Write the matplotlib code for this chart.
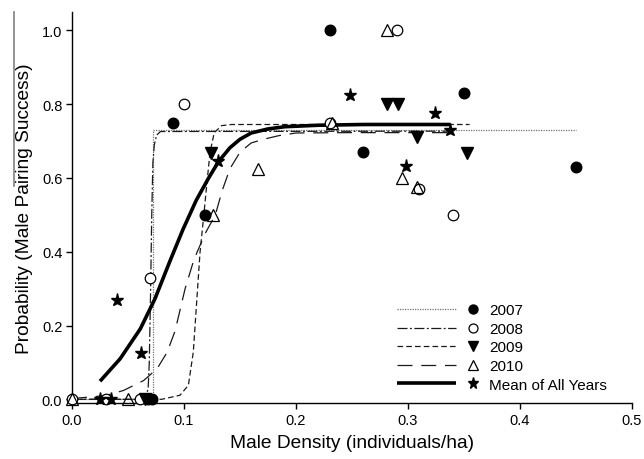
import numpy as np
import matplotlib
matplotlib.use("Agg")
import matplotlib.pyplot as plt
from matplotlib.lines import Line2D
from matplotlib.legend_handler import HandlerBase

plt.rcParams['font.family'] = ['Liberation Sans', 'DejaVu Sans']

x_2007 = [0.068, 0.071, 0.090, 0.119, 0.230, 0.260, 0.350, 0.450]
y_2007 = [0.0, 0.0, 0.75, 0.50, 1.00, 0.67, 0.83, 0.63]
x_2008 = [0.0, 0.030, 0.061, 0.070, 0.100, 0.230, 0.290, 0.310, 0.340]
y_2008 = [0.0, 0.0, 0.0, 0.33, 0.80, 0.75, 1.00, 0.57, 0.50]
x_2009 = [0.065, 0.124, 0.281, 0.291, 0.308, 0.353]
y_2009 = [0.0, 0.667, 0.80, 0.80, 0.71, 0.667]
x_2010 = [0.0, 0.050, 0.126, 0.166, 0.232, 0.281, 0.295, 0.308]
y_2010 = [0.0, 0.0, 0.50, 0.625, 0.75, 1.00, 0.60, 0.575]
x_mean = [0.025, 0.035, 0.040, 0.062, 0.130, 0.248, 0.298, 0.324, 0.3375]
y_mean = [0.0, 0.0, 0.27, 0.125, 0.645, 0.824, 0.632, 0.775, 0.73]

# fitted curves
cx_2007 = [0.0, 0.0726, 0.0726, 0.45]
cy_2007 = [0.0, 0.0, 0.73, 0.73]
cx_2008 = [0.0, 0.060, 0.066, 0.068, 0.069, 0.0702, 0.0712, 0.0722, 0.0735, 0.0755, 0.079, 0.34]
cy_2008 = [0.0, 0.0, 0.005, 0.03, 0.10, 0.30, 0.50, 0.64, 0.69, 0.716, 0.726, 0.727]
cx_2009 = [0.0, 0.080, 0.0964, 0.1039, 0.1083, 0.1113, 0.1143, 0.1173, 0.1202, 0.1232, 0.127, 0.1336, 0.1426, 0.355]
cy_2009 = [0.0, 0.0, 0.011, 0.038, 0.128, 0.263, 0.398, 0.488, 0.578, 0.669, 0.723, 0.742, 0.745, 0.745]
cx_2010 = [0.0, 0.030, 0.046, 0.064, 0.076, 0.085, 0.092, 0.101, 0.109, 0.119, 0.128, 0.134, 0.141, 0.150, 0.160, 0.171, 0.185, 0.20, 0.25, 0.335]
cy_2010 = [0.002, 0.010, 0.024, 0.051, 0.083, 0.128, 0.185, 0.30, 0.38, 0.45, 0.50, 0.565, 0.625, 0.67, 0.695, 0.705, 0.715, 0.722, 0.723, 0.723]
cx_mean = [0.025, 0.043, 0.061, 0.074, 0.0875, 0.099, 0.111, 0.122, 0.131, 0.141, 0.150, 0.160, 0.175, 0.19, 0.22, 0.26, 0.338]
cy_mean = [0.049, 0.110, 0.191, 0.272, 0.375, 0.46, 0.54, 0.60, 0.645, 0.682, 0.705, 0.722, 0.733, 0.739, 0.743, 0.745, 0.745]

labels = ['2007', '2008', '2009', '2010', 'Mean of All Years']


class LineThenMarker(HandlerBase):
    # line sample on the left, marker to its right
    def create_artists(self, legend, orig_handle, xdescent, ydescent,
                       width, height, fontsize, trans):
        ln, mk = orig_handle
        y = height / 2 - ydescent
        l = Line2D([0, 1], [0, 1])
        l.update_from(ln)
        l.set_data([-xdescent, -xdescent + width * 0.70], [y, y])
        l.set_transform(trans)
        m = Line2D([0], [0])
        m.update_from(mk)
        m.set_markersize(mk.get_markersize() * 0.85)
        m.set_data([-xdescent + width * 0.90], [y])
        m.set_transform(trans)
        return [l, m]


fig = plt.figure(figsize=(6.44, 4.6), dpi=100)
ax = fig.add_axes([72 / 644, 1 - 404 / 460, 560 / 644, 391 / 460])

l07, = ax.plot(cx_2007, cy_2007, color='0.45', lw=0.9, linestyle=(0, (1, 1)))
l08, = ax.plot(cx_2008, cy_2008, color='0.1', lw=0.9, dashes=(8, 2, 1.5, 2))
l09, = ax.plot(cx_2009, cy_2009, color='0.1', lw=0.9, dashes=(4.5, 2.5))
l10, = ax.plot(cx_2010, cy_2010, color='0.1', lw=0.9, dashes=(12, 7))
lmn, = ax.plot(cx_mean, cy_mean, color='black', lw=2.6, solid_capstyle='butt')

kw = dict(linestyle='none', clip_on=False, zorder=3)
m07, = ax.plot(x_2007, y_2007, marker='o', ms=7.6, mfc='black', mec='black', **kw)
m08, = ax.plot(x_2008, y_2008, marker='o', ms=7.6, mfc='white', mec='black', mew=0.9, **kw)
m09, = ax.plot(x_2009, y_2009, marker='v', ms=8.2, mfc='black', mec='black', **kw)
m10, = ax.plot(x_2010, y_2010, marker='^', ms=8.2, mfc='none', mec='black', mew=0.9, **kw)
mmn, = ax.plot(x_mean, y_mean, marker='*', ms=9.5, mfc='black', mec='black', **kw)

ax.set_xlim(0, 0.5)
ax.set_ylim(-0.01, 1.05)
ax.set_xticks([0.0, 0.1, 0.2, 0.3, 0.4, 0.5])
ax.set_yticks([0.0, 0.2, 0.4, 0.6, 0.8, 1.0])
ax.xaxis.set_major_formatter(matplotlib.ticker.FormatStrFormatter('%.1f'))
ax.yaxis.set_major_formatter(matplotlib.ticker.FormatStrFormatter('%.1f'))
ax.tick_params(direction='out', length=4, width=1, labelsize=10.5, pad=3)
for s in ['top', 'right']:
    ax.spines[s].set_visible(False)
ax.spines['left'].set_linewidth(1)
ax.spines['bottom'].set_linewidth(1)

ax.set_xlabel('Male Density (individuals/ha)', fontsize=13.8, labelpad=5)
ax.set_ylabel('Probability (Male Pairing Success)', fontsize=13.8, labelpad=6)

handles = [(l07, m07), (l08, m08), (l09, m09), (l10, m10), (lmn, mmn)]
ax.legend(handles, labels, handler_map={tuple: LineThenMarker()},
          loc='upper left', bbox_to_anchor=(0.580, 0.255), frameon=False,
          fontsize=11, handlelength=5.55, handletextpad=0.5,
          labelspacing=0.30, borderpad=0, borderaxespad=0)

# grey scan edge along the left of the figure
fig.add_artist(Line2D([14 / 644, 14 / 644], [1 - 13 / 460, 1 - 187 / 460],
                      color='0.5', lw=1.2))

fig.savefig('out.png', dpi=100)
